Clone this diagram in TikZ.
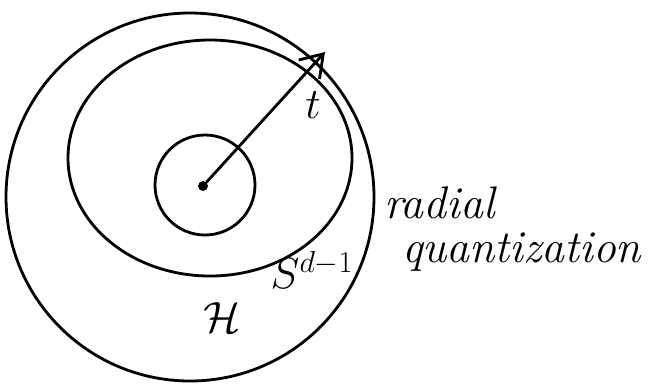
\documentclass[tikz,border=0pt]{standalone}
\usetikzlibrary{arrows.meta}
\tikzset{
  sketch/.style={line width=1.6pt, line cap=round},
  handtext/.style={font=\fontsize{26}{28}\selectfont\itshape, inner sep=0pt}
}
\begin{document}
\begin{tikzpicture}[x=0.02cm, y=-0.02cm]
\useasboundingbox (0,0) rectangle (656,387);

% Cercles
\draw[sketch] (205,185) ellipse (50 and 50);
\draw[sketch] (210,158) ellipse (142 and 118);
\draw[sketch] (190,197) ellipse (184 and 184);

% Centre et rayon
\node[circle, fill, inner sep=2pt] (origin) at (203,186) {};
\coordinate (rim) at (325,52);
\draw[sketch, -{Straight Barb[length=12pt, width=16pt]}] (origin) -- (rim);

% Labels
\node[handtext] (tlab) at (313,105) {$t$};
\node[handtext] (hilb) at (222,318) {$\mathcal{H}$};
\node[handtext] (sphere) at (312,270) {$S^{d-1}$};
\node[handtext, anchor=west] (radial) at (384,203) {radial};
\node[handtext, anchor=west] (quant) at (402,252) {quantization};

\end{tikzpicture}
\end{document}
